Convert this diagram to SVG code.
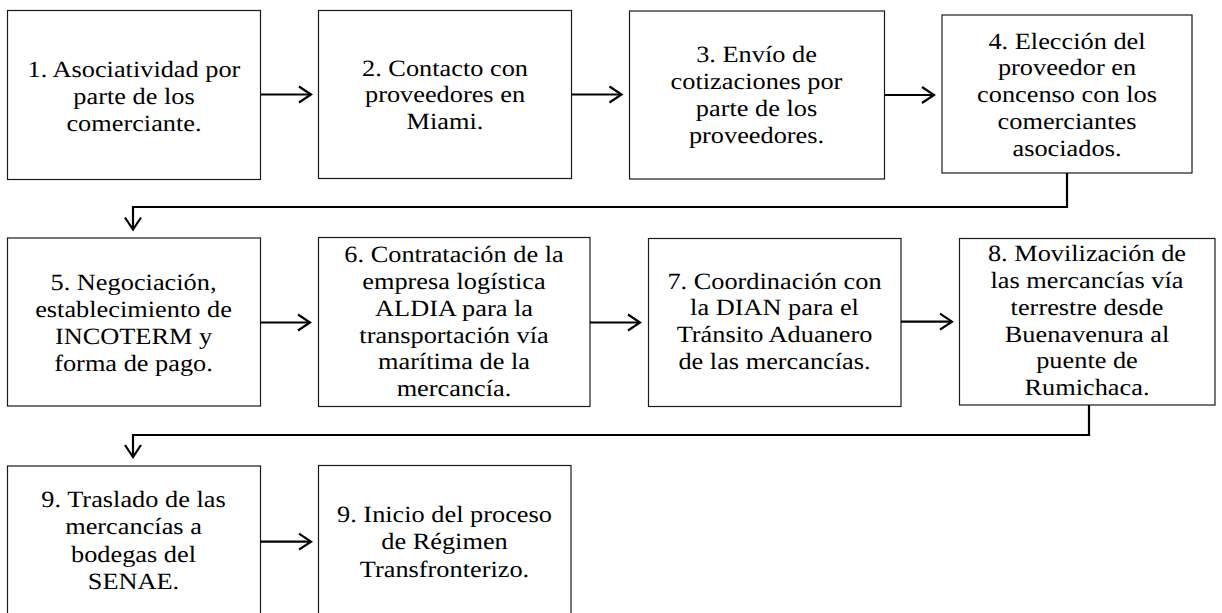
<svg xmlns="http://www.w3.org/2000/svg" width="1222" height="613" viewBox="0 0 1222 613">
<style>
.box{fill:#fff;stroke:#1a1a1a;stroke-width:1.2}
.t{font-family:"Liberation Serif","Times New Roman",serif;font-size:23.3px;fill:#000;text-anchor:middle;text-rendering:geometricPrecision}
.c{fill:none;stroke:#000;stroke-width:2.2}
</style>
<defs>
<marker id="chev" markerUnits="userSpaceOnUse" markerWidth="20" markerHeight="20" refX="15" refY="10" orient="auto" overflow="visible">
<path d="M3,2 L15,10 L3,18" fill="none" stroke="#000" stroke-width="2.2"/>
</marker>
</defs>
<rect width="1222" height="613" fill="#fff"/>
<g id="n1"><rect class="box" x="7.5" y="10.5" width="253" height="169"/>
<text class="t" transform="translate(134 0) scale(1.13 1)"><tspan x="0" y="77.3">1. Asociatividad por</tspan><tspan x="0" y="104.1">parte de los</tspan><tspan x="0" y="130.9">comerciante.</tspan></text></g>
<g id="n2"><rect class="box" x="318.5" y="10.5" width="253" height="168"/>
<text class="t" transform="translate(445 0) scale(1.13 1)"><tspan x="0" y="75.5">2. Contacto con</tspan><tspan x="0" y="102.3">proveedores en</tspan><tspan x="0" y="129.1">Miami.</tspan></text></g>
<g id="n3"><rect class="box" x="629.5" y="11" width="255" height="168"/>
<text class="t" transform="translate(756.5 0) scale(1.13 1)"><tspan x="0" y="62">3. Envío de</tspan><tspan x="0" y="89">cotizaciones por</tspan><tspan x="0" y="116">parte de los</tspan><tspan x="0" y="143">proveedores.</tspan></text></g>
<g id="n4"><rect class="box" x="942" y="15" width="250" height="158"/>
<text class="t" transform="translate(1067 0) scale(1.13 1)"><tspan x="0" y="48.5">4. Elección del</tspan><tspan x="0" y="75.4">proveedor en</tspan><tspan x="0" y="102.3">concenso con los</tspan><tspan x="0" y="129.2">comerciantes</tspan><tspan x="0" y="156.1">asociados.</tspan></text></g>
<g id="n5"><rect class="box" x="7.5" y="238" width="253" height="168"/>
<text class="t" transform="translate(133.5 0) scale(1.13 1)"><tspan x="0" y="290">5. Negociación,</tspan><tspan x="0" y="316.9">establecimiento de</tspan><tspan x="0" y="343.8">INCOTERM y</tspan><tspan x="0" y="370.7">forma de pago.</tspan></text></g>
<g id="n6"><rect class="box" x="318.5" y="237.5" width="271.5" height="169"/>
<text class="t" transform="translate(454 0) scale(1.13 1)"><tspan x="0" y="261.8">6. Contratación de la</tspan><tspan x="0" y="288.7">empresa logística</tspan><tspan x="0" y="315.6">ALDIA para la</tspan><tspan x="0" y="342.5">transportación vía</tspan><tspan x="0" y="369.4">marítima de la</tspan><tspan x="0" y="396.3">mercancía.</tspan></text></g>
<g id="n7"><rect class="box" x="648.5" y="238.5" width="252.5" height="168"/>
<text class="t" transform="translate(774.5 0) scale(1.13 1)"><tspan x="0" y="288.5">7. Coordinación con</tspan><tspan x="0" y="315.4">la DIAN para el</tspan><tspan x="0" y="342.3">Tránsito Aduanero</tspan><tspan x="0" y="369.2">de las mercancías.</tspan></text></g>
<g id="n8"><rect class="box" x="959.5" y="238.5" width="255.5" height="166.5"/>
<text class="t" transform="translate(1087 0) scale(1.13 1)"><tspan x="0" y="261.2">8. Movilización de</tspan><tspan x="0" y="288">las mercancías vía</tspan><tspan x="0" y="314.8">terrestre desde</tspan><tspan x="0" y="341.6">Buenavenura al</tspan><tspan x="0" y="368.4">puente de</tspan><tspan x="0" y="395.2">Rumichaca.</tspan></text></g>
<g id="n9"><rect class="box" x="7.5" y="466" width="253" height="160"/>
<text class="t" transform="translate(133.5 0) scale(1.13 1)"><tspan x="0" y="507">9. Traslado de las</tspan><tspan x="0" y="534.3">mercancías a</tspan><tspan x="0" y="561.6">bodegas del</tspan><tspan x="0" y="588.9">SENAE.</tspan></text></g>
<g id="n10"><rect class="box" x="318.5" y="465.5" width="252.5" height="160"/>
<text class="t" transform="translate(444.5 0) scale(1.13 1)"><tspan x="0" y="521.8">9. Inicio del proceso</tspan><tspan x="0" y="549">de Régimen</tspan><tspan x="0" y="576.5">Transfronterizo.</tspan></text></g>
<g id="connectors">
<path class="c" d="M261,94.5 H311" marker-end="url(#chev)"/>
<path class="c" d="M572,94.5 H621.5" marker-end="url(#chev)"/>
<path class="c" d="M884.5,95 H934" marker-end="url(#chev)"/>
<path class="c" d="M1067,173 V207 H133 V229.5" marker-end="url(#chev)"/>
<path class="c" d="M260.5,322.5 H310" marker-end="url(#chev)"/>
<path class="c" d="M590,322.5 H640" marker-end="url(#chev)"/>
<path class="c" d="M901,321.7 H952" marker-end="url(#chev)"/>
<path class="c" d="M1089,405 V435 H133 V457" marker-end="url(#chev)"/>
<path class="c" d="M260.5,541.7 H311" marker-end="url(#chev)"/>
</g>
</svg>
